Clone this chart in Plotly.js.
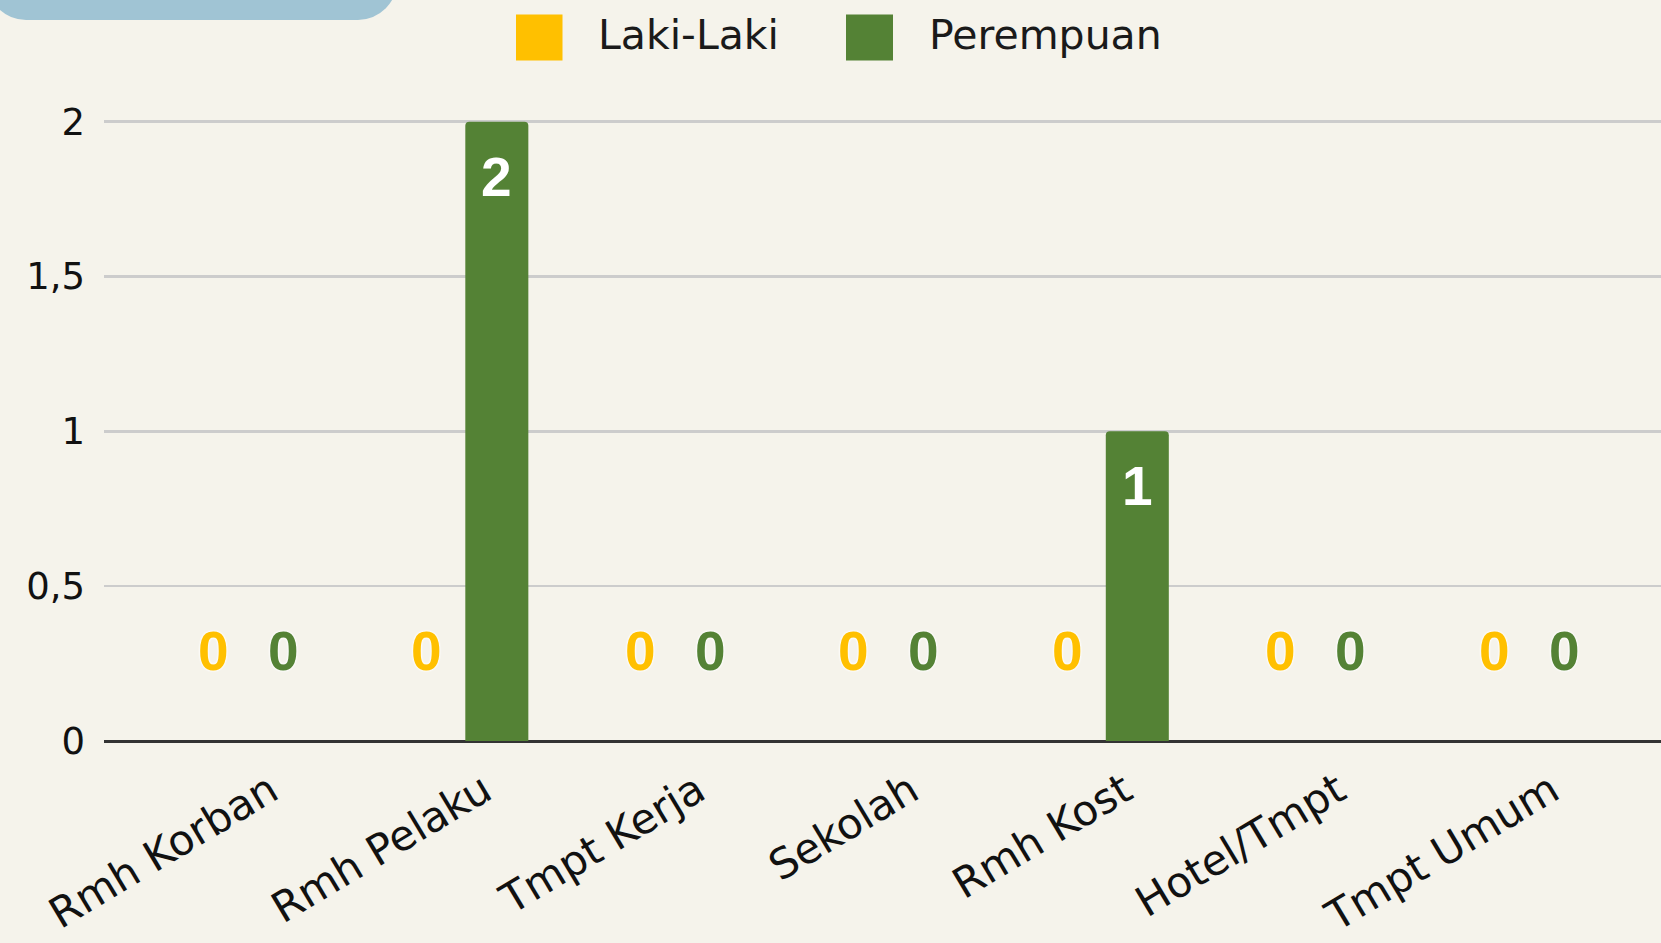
<!DOCTYPE html>
<html>
<head>
<meta charset="utf-8">
<script src="https://cdn.plot.ly/plotly-3.0.1.min.js"></script>
<style>
  html, body { margin: 0; padding: 0; background: #F5F3EB; }
  #wrap { position: relative; width: 1661px; height: 943px; overflow: hidden; }
  #chart { width: 1661px; height: 943px; }
  #tab { position: absolute; left: -13px; top: -19px; width: 410px; height: 39px;
         background: #A0C4D4; border-radius: 0 0 40px 40px; z-index: 5; pointer-events: none; }
</style>
</head>
<body>
<div id="wrap">
  <div id="chart"></div>
  <div id="tab"></div>
</div>
<script>
// ---- data ----
const categories = ["Rmh Korban", "Rmh Pelaku", "Tmpt Kerja", "Sekolah", "Rmh Kost", "Hotel/Tmpt", "Tmpt Umum"];
const seriesNames = ["Laki-Laki", "Perempuan"];
const lakiLaki = [0, 0, 0, 0, 0, 0, 0];
const perempuan = [0, 2, 0, 0, 1, 0, 0];
const yTickVals = [0, 0.5, 1, 1.5, 2];

// ---- style ----
const colors = ["#FFC000", "#548235"];
const bg = "#F5F3EB";
const W = 1661, H = 943;
const yMax = 2.012;
const M = { l: 104, r: 0, t: 118, b: 201.5 };
const plotW = W - M.l - M.r, plotH = H - M.t - M.b;
const barOffsetPx = 35;

const seriesValues = [lakiLaki, perempuan];

const traces = seriesValues.map((vals, s) => ({
  type: "bar",
  name: seriesNames[s],
  x: categories,
  y: vals,
  marker: { color: colors[s], cornerradius: 4 },
  hoverinfo: "x+y+name",
  showlegend: false
}));

// data labels
const annotations = [];
seriesValues.forEach((vals, s) => {
  vals.forEach((v, i) => {
    const isZero = v === 0;
    annotations.push({
      x: categories[i], y: v, xref: "x", yref: "y",
      text: String(v), showarrow: false,
      xshift: (s === 0 ? -1 : 1) * barOffsetPx,
      yshift: isZero ? 90 : -55,
      xanchor: "center", yanchor: "middle",
      font: {
        family: "'Liberation Sans Narrow', 'Liberation Sans', Arial, sans-serif",
        size: 55, weight: 700,
        color: isZero ? colors[s] : "#FFFFFF",
        shadow: isZero ? "0 0 3px #fff, 0 0 3px #fff, 0 0 2px #fff" : "none"
      }
    });
  });
});

// manual legend (px -> paper)
const px2x = px => (px - M.l) / plotW;
const py2y = py => (H - M.b - py) / plotH;
const legendItems = [
  { sq: [516, 562.5], tx: 596 },
  { sq: [846, 893], tx: 927 }
];
const shapes = [];
legendItems.forEach((it, s) => {
  shapes.push({
    type: "rect", xref: "paper", yref: "paper",
    x0: px2x(it.sq[0]), x1: px2x(it.sq[1]),
    y0: py2y(60.5), y1: py2y(14.5),
    fillcolor: colors[s], line: { width: 0 }
  });
  annotations.push({
    xref: "paper", yref: "paper",
    x: px2x(it.tx), y: py2y(35),
    xanchor: "left", yanchor: "middle",
    text: seriesNames[s], showarrow: false,
    font: { family: "DejaVu Sans, sans-serif", size: 41, color: "#1a1a1a" }
  });
});

const layout = {
  width: W, height: H,
  margin: M,
  paper_bgcolor: bg, plot_bgcolor: bg,
  separators: ",.",
  barmode: "group",
  bargap: 0.344,
  bargroupgap: 0.1,
  showlegend: false,
  xaxis: {
    type: "category",
    range: [-0.676, 6.617],
    tickangle: -31,
    tickfont: { family: "DejaVu Sans, sans-serif", size: 42, color: "#111" },
    showgrid: false, showline: false, ticks: "", zeroline: false,
    ticklabelstandoff: 16, ticklabelshift: 22,
    fixedrange: true
  },
  yaxis: {
    range: [0, yMax],
    tickvals: yTickVals,
    tickfont: { family: "DejaVu Sans, sans-serif", size: 37, color: "#111" },
    gridcolor: "#CCCCCC", gridwidth: 2.5,
    zeroline: true, zerolinecolor: "#333333", zerolinewidth: 3,
    showline: false, ticks: "", ticklabelstandoff: 18,
    fixedrange: true
  },
  annotations: annotations,
  shapes: shapes
};

Plotly.newPlot("chart", traces, layout, { displayModeBar: false, staticPlot: true });
</script>
</body>
</html>
